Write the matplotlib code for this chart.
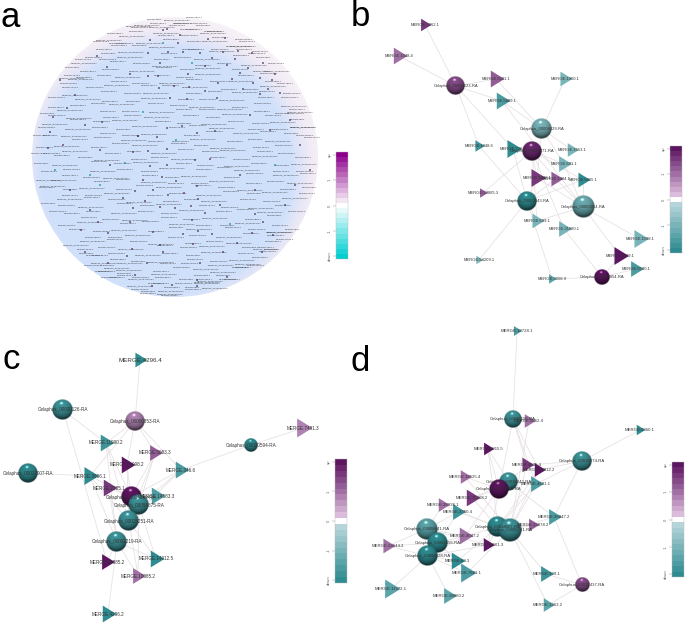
import numpy as np
import matplotlib
matplotlib.use('Agg')
import matplotlib.pyplot as plt
from matplotlib.collections import LineCollection
from matplotlib.colors import LinearSegmentedColormap, Normalize
from matplotlib.patches import Ellipse

W, H = 685, 624

# panel a: the labels cannot be read, so rows of tiny text stand in for them
a_row_y = [19, 24, 29, 35, 41, 47, 52, 58, 64, 70, 76, 81, 87, 93, 99, 105, 111, 116, 122, 128, 134,
           140, 146, 152, 158, 164, 170, 176, 182, 188, 194, 200, 206, 212, 218, 224, 230, 236, 242,
           248, 254, 260, 265, 270, 275, 280, 285, 290, 294]
a_ring_y = [17, 21, 26, 32, 38, 44, 50, 55, 61, 67, 73, 79, 84, 90, 96, 102, 108, 114, 119, 125, 131,
            137, 143, 149, 155, 161, 167, 173, 179, 185, 191, 197, 203, 209, 215, 221, 227, 233, 239,
            245, 251, 257, 262, 267, 272, 277, 282, 287, 292]
a_labels = ['Celaphus_00000623-RA', 'MERGE.1962.1', 'MERGE.21880.1', 'Celaphus_00004429-RA', 'MERGE.5889.1',
            'MERGE.699.1', 'Celaphus_00000943-RA', 'MERGE.1048.4', 'MERGE.14912.5']
a_gaps = [4, 10, 3, 14, 7, 5, 16, 9, 4, 20, 8, 12]
a_wobble = [0, -2, 1, 2, -1, 0, 2, -2, 1, -1]
a_node_x = [167, 182, 138, 157, 197, 215, 176, 148, 133, 167, 210, 195, 150, 167, 125, 143, 162, 176, 197, 153,
            135, 184, 168, 145, 198, 123, 160, 175, 133, 220, 163, 150, 148, 97, 107, 130, 148, 143, 102, 53,
            67, 50, 138, 63, 48, 167, 180, 163, 178, 208, 225, 168, 183, 200, 223, 238, 252, 192, 212, 235,
            263, 160, 205, 227, 248, 275, 240, 158, 188, 232, 260, 272, 174, 189, 159, 205, 218, 243, 268, 253,
            170, 187, 217, 260, 280, 90, 191, 205, 255, 98, 130, 192, 230, 263, 81, 108, 153, 198, 252, 273,
            183, 212, 160, 193, 237, 85, 132, 163, 223, 262, 127, 200, 108, 147, 135, 197, 227, 152, 197, 172,
            60, 75, 55, 70, 90, 250, 270, 290, 300, 275, 295, 310, 240, 255, 285, 100, 110, 85, 100]
a_node_y = [128, 126, 136, 137, 133, 131, 140, 151, 152, 149, 159, 160, 166, 165, 163, 180, 177, 181, 186, 190,
            191, 193, 195, 201, 199, 198, 207, 208, 208, 205, 30, 40, 53, 56, 67, 74, 76, 112, 122, 117,
            108, 132, 136, 145, 148, 29, 35, 43, 43, 39, 38, 52, 52, 53, 52, 51, 53, 63, 58, 59,
            63, 63, 66, 65, 68, 74, 73, 76, 74, 79, 78, 80, 86, 87, 88, 91, 83, 89, 89, 83,
            98, 99, 98, 94, 93, 210, 206, 213, 214, 222, 222, 220, 224, 222, 230, 233, 232, 231, 233, 235,
            234, 234, 245, 244, 243, 252, 249, 252, 252, 252, 256, 263, 263, 263, 275, 280, 277, 286, 286, 285,
            80, 95, 170, 190, 175, 115, 130, 120, 145, 165, 185, 170, 175, 190, 205, 185, 165, 125, 150]
a_teal_nodes = [6, 14, 47, 37, 57, 92, 122, 124, 129, 135]

# panel b
b_gene_names = ['Celaphus_00000623-RA', 'Celaphus_00004429-RA', 'Celaphus_00000471-RA', 'Celaphus_00000943-RA',
                'Celaphus_00000054-RA', 'Celaphus_00000854-RA']
b_gene_x = [456, 542, 532, 527, 583, 602]
b_gene_y = [86, 129, 151, 201, 207, 277]
b_gene_r = [9.5, 10.5, 10, 9.7, 11.3, 8]
b_gene_val = [1.4, -1.0, 1.8, -2.0, -1.1, 2.0]
b_mir_names = ['MERGE.1962.1', 'MERGE.1048.4', 'MERGE.5501.1', 'MERGE.1960.1', 'MERGE.5889.1', 'MERGE.1848.6',
               'MERGE.726.1', 'MERGE.1553.1', 'MERGE.691.1', 'MERGE.1098.1', 'MERGE.1384.1', 'MERGE.5865.1',
               'MERGE.19885.3', 'MERGE.699.1', 'MERGE.21880.1', 'MERGE.1598.1', 'MERGE.2189.1', 'MERGE.5590.1',
               'MERGE.54209.1', 'MERGE.9008.9']
b_mir_x = [425, 399, 496, 565, 502, 479, 513, 572, 564, 537, 556, 583, 483, 537, 564, 640, 620, 636, 479, 552]
b_mir_y = [25, 56, 79, 79, 101, 146, 149, 150, 164, 178, 179, 180, 193, 221, 229, 239, 256, 269, 260, 279]
b_mir_h = [6, 8, 8, 7, 8, 5.5, 8.5, 6.5, 7.5, 8.5, 7, 7, 4.5, 7, 7.5, 8.5, 8.5, 7.5, 4, 4.5]
b_mir_val = [1.6, 0.95, 1.1, -1.0, -1.6, -1.8, -2.0, -1.0, -0.9, 1.6, 1.2, -2.0, 1.2, -0.9, -1.0, -0.9, 2.0, -1.6,
             -1.0, -1.3]
b_edges = [(0, 0), (0, 1), (0, 2), (0, 4), (0, 5), (0, 6), (1, 3), (1, 4), (1, 2), (1, 7), (1, 8), (1, 9), (2, 6),
           (2, 12), (2, 8), (2, 9), (2, 10), (2, 11), (2, 13), (2, 14), (3, 5), (3, 6), (3, 9), (3, 10), (3, 11),
           (3, 13), (3, 18), (3, 19), (4, 4), (4, 8), (4, 9), (4, 10), (4, 11), (4, 13), (4, 15), (4, 16), (5, 16),
           (5, 17), (5, 19), (5, 14)]

# panel c
c_gene_names = ['Celaphus_00000126-RA', 'Celaphus_00000853-RA', 'Celaphus_00017007-RA', 'Celaphus_00020594-RA',
                'Celaphus_00014389-RA', 'Celaphus_00054875-RA', 'Celaphus_00015251-RA', 'Celaphus_00002219-RA']
c_gene_x = [63, 135, 28, 251, 131, 139, 129, 117]
c_gene_y = [410, 421, 473, 445, 497, 505, 521, 542]
c_gene_r = [10.5, 10, 10, 6.7, 10.3, 10.5, 10.5, 10.5]
c_gene_val = [-1.8, 0.7, -2.0, -2.0, 2.0, -1.8, -1.8, -1.8]
c_mir_names = ['MERGE.4296.4', 'MERGE.7491.3', 'MERGE.11990.2', 'MERGE.5083.3', 'MERGE.11098.2', 'MERGE.346.6',
               'MERGE.3996.1', 'MERGE.2285.1', 'MERGE.14583.3', 'MERGE.14912.5', 'MERGE.14885.2', 'MERGE.10085.2',
               'MERGE.4296.2']
c_mir_x = [140, 303, 106, 155, 127, 181, 90, 109, 157, 156, 107, 138, 108]
c_mir_y = [360, 428, 443, 453, 465, 470, 476, 488, 496, 559, 562, 576, 614]
c_mir_h = [7, 9, 8, 7.5, 8, 8, 8.5, 8, 8, 8, 7.5, 7.5, 8]
c_mir_val = [-2.0, 0.7, -1.8, 1.2, 2.0, -1.6, -2.0, 1.6, -1.6, -2.0, 2.0, 0.9, -2.0]
c_edges = [(1, 0), (1, 2), (1, 3), (1, 4), (1, 5), (1, 6), (0, 2), (0, 10), (2, 6), (3, 5), (3, 1), (4, 2), (4, 3),
           (4, 4), (4, 5), (4, 6), (4, 7), (4, 8), (5, 3), (5, 5), (5, 8), (5, 9), (5, 11), (6, 2), (6, 3), (6, 4),
           (6, 5), (6, 6), (6, 9), (6, 11), (7, 2), (7, 7), (7, 9), (7, 10), (7, 11), (7, 12), (7, 6)]

# panel d
d_gene_names = ['Celaphus_00006156-RA', 'Celaphus_00018274-RA', 'Celaphus_00018243-RA', 'Celaphus_00011065-RA',
                'Celaphus_00014007-RA', 'Celaphus_00000731-RA', 'Celaphus_00008641-RA', 'Celaphus_00002656-RA',
                'Celaphus_00008328-RA', 'Celaphus_00017437-RA']
d_gene_x = [513, 582, 509, 499, 498, 510, 427, 438, 428, 582]
d_gene_y = [419, 461, 482, 489, 527, 530, 529, 543, 556, 585]
d_gene_r = [8.7, 10, 9.5, 10, 10.5, 11.7, 10.7, 10.5, 10.5, 7.3]
d_gene_val = [-1.7, -1.7, -1.7, 2.0, -1.9, -1.8, -1.4, -2.0, -2.0, 1.4]
d_mir_names = ['MERGE.18728.1', 'MERGE.9860.1', 'MERGE.5862.4', 'MERGE.5915.5', 'MERGE.4635.4', 'MERGE.14912.2',
               'MERGE.18525.4', 'MERGE.4691.1', 'MERGE.15368.2', 'MERGE.28938.1', 'MERGE.3760.4', 'MERGE.26847.2',
               'MERGE.13878.2', 'MERGE.4047.2', 'MERGE.24644.2', 'MERGE.10661.3', 'MERGE.69.3', 'MERGE.7601.1',
               'MERGE.399.1', 'MERGE.11972.1', 'MERGE.98860.2', 'MERGE.1263.2']
d_mir_x = [517, 640, 529, 488, 527, 539, 465, 536, 472, 443, 458, 554, 533, 465, 388, 488, 457, 467, 546, 391, 449, 548]
d_mir_y = [331, 430, 421, 449, 465, 470, 477, 484, 498, 505, 512, 517, 525, 536, 546, 545, 561, 573, 574, 589, 596, 605]
d_mir_h = [4.7, 5, 6.5, 6, 7, 6.5, 6.5, 7.5, 8, 6.5, 7.5, 7.5, 6, 8, 7, 6.5, 8, 9, 7.5, 9, 7.5, 6.5]
d_mir_val = [-1.6, -2.0, 0.9, 2.0, 1.6, 2.0, 0.9, -1.6, 1.6, 0.9, -1.8, -1.6, 1.2, 0.9, 0.9, 2.0, -2.0, -1.6, -1.8,
             -1.3, -1.3, -1.3]
d_edges = [(0, 0), (0, 2), (0, 4), (0, 5), (0, 7), (0, 15), (1, 1), (1, 4), (1, 5), (1, 7), (1, 11), (2, 3), (2, 4),
           (2, 7), (2, 8), (2, 11), (3, 6), (3, 8), (3, 3), (3, 13), (4, 3), (4, 5), (4, 7), (4, 8), (4, 9), (4, 10),
           (4, 15), (4, 12), (4, 13), (5, 2), (5, 4), (5, 5), (5, 7), (5, 6), (5, 12), (5, 18), (5, 11), (5, 21),
           (9, 11), (9, 18), (9, 21), (6, 9), (6, 10), (6, 13), (6, 14), (6, 15), (6, 17), (7, 14), (7, 13), (7, 16),
           (7, 10), (8, 14), (8, 19), (8, 20), (8, 16), (8, 17), (8, 15), (8, 13), (4, 16), (5, 17)]

bar_ticks = [-2, -1, 0, 1, 2]
bar_labels = ['down', '-1', '0', '1', 'up']

net_cmap = LinearSegmentedColormap.from_list(
    'net', [(0, '#2e8b90'), (0.45, '#b5d5da'), (0.5, '#ffffff'), (0.55, '#dcbcdc'), (0.75, '#a06fa4'), (1, '#5c1560')],
    N=21)
a_cmap = LinearSegmentedColormap.from_list(
    'hair', [(0, '#00ced1'), (0.5, '#ffffff'), (1, '#8b008b')], N=21)
norm = Normalize(-2, 2)


def draw_sphere(ax, x, y, r, color):
    n = 48
    yy, xx = np.mgrid[-1:1:n * 1j, -1:1:n * 1j]
    d2 = xx ** 2 + yy ** 2
    zz = np.sqrt(np.clip(1 - d2, 0, 1))
    diffuse = np.clip(-0.1 * xx - 0.55 * yy + 0.83 * zz, 0, 1)
    spot = np.clip(-0.1 * xx - 0.62 * yy + 0.78 * zz, 0, 1) ** 160
    rgb = np.array(color[:3]) * (0.38 + 0.62 * diffuse ** 0.8)[..., None] + 0.7 * spot[..., None]
    alpha = np.clip((1 - np.sqrt(d2)) * n / 2, 0, 1)
    img = np.dstack([np.clip(rgb, 0, 1), alpha])
    ax.imshow(img, extent=(x - r, x + r, y + r, y - r), zorder=4, aspect='auto', interpolation='bilinear')


def draw_network(ax, g_names, g_x, g_y, g_r, g_val, m_names, m_x, m_y, m_h, m_val, edges, fs):
    segs = [[(g_x[i], g_y[i]), (m_x[j], m_y[j])] for i, j in edges]
    ax.add_collection(LineCollection(segs, colors='#e6dfe3', linewidths=0.55, zorder=1))
    tri = [(-0.62, -1), (-0.62, 1), (1.0, 0)]
    sizes = [(2 * h * 1.05 * 72 / 100) ** 2 for h in m_h]
    ax.scatter(m_x, m_y, s=sizes, marker=tri, c=m_val, cmap=net_cmap, norm=norm, linewidths=0, zorder=3)
    for k in range(len(g_names)):
        draw_sphere(ax, g_x[k], g_y[k], g_r[k], net_cmap(norm(g_val[k])))
        ax.text(g_x[k], g_y[k], g_names[k], fontsize=fs, color='#333333', ha='center', va='center', zorder=5)
    for k in range(len(m_names)):
        ax.text(m_x[k], m_y[k], m_names[k], fontsize=fs, color='#333333', ha='center', va='center', zorder=5)


def draw_bar(fig, cmap, x0, x1, y0, y1):
    cax = fig.add_axes([x0 / W, 1 - y1 / H, (x1 - x0) / W, (y1 - y0) / H])
    edges = np.linspace(-2.1, 2.1, 22)
    centers = (edges[:-1] + edges[1:]) / 2
    cax.pcolormesh([0, 1], edges, centers[:, None], cmap=cmap, norm=Normalize(-2.1, 2.1))
    cax.set_xticks([])
    cax.set_yticks(bar_ticks)
    cax.set_yticklabels(bar_labels, rotation=90, va='center', fontsize=3, color='#666666')
    cax.tick_params(axis='y', length=2, width=0.3, pad=1, color='#888888')
    for s in cax.spines.values():
        s.set_linewidth(0.3)
        s.set_color('#bbbbbb')


def disc_radius(x, y):
    return np.hypot((x - 175) / 143, (y - 157) / 140)


def draw_rows(ax, rows, rmin, shift):
    # walk along each row and keep the labels that lie inside the disc
    for i, y in enumerate(rows):
        x = 20 + (i * 7 + shift) % 23
        col = 0
        while x < 330:
            label = a_labels[(i * 2 + col + shift) % len(a_labels)]
            w = len(label) * 1.15
            yy = y + a_wobble[(i + col * 3) % len(a_wobble)]
            r_mid = disc_radius(x + w / 2, yy)
            if disc_radius(x, yy) < 1.01 and disc_radius(x + w, yy) < 1.01 and r_mid >= rmin:
                ax.text(x, yy, label, fontsize=1.75, color='#303030', ha='left', va='center', zorder=2)
            x += w + a_gaps[(i * 5 + col + shift) % len(a_gaps)]
            col += 1


plt.rcParams['font.family'] = ['Liberation Sans', 'DejaVu Sans']
fig = plt.figure(figsize=(W / 100, H / 100), dpi=100)
ax = fig.add_axes([0, 0, 1, 1])
ax.set_xlim(0, W)
ax.set_ylim(H, 0)

# hairball
disc = Ellipse((175, 157), 286, 280, facecolor='none', edgecolor='none')
ax.add_patch(disc)
yy, xx = np.mgrid[0:1:300j, 0:1:300j]
rr = np.hypot(xx - 0.47, yy - 0.55) * 2
disc_cmap = LinearSegmentedColormap.from_list(
    'disc', [(0, '#cfe0fc'), (0.80, '#d0e0fb'), (0.92, '#efeaf5'), (1, '#f6f1f7')])
bg = ax.imshow(rr, extent=(32, 318, 297, 17), cmap=disc_cmap, vmin=0, vmax=1.1, aspect='auto', zorder=0)
bg.set_clip_path(disc)
draw_rows(ax, a_row_y, 0, 0)
draw_rows(ax, a_ring_y, 0.88, 4)
a_colors = ['#0f8f98' if k in a_teal_nodes else '#4a2a55' for k in range(len(a_node_x))]
ax.scatter(a_node_x, a_node_y, s=1.6, c=a_colors, linewidths=0, zorder=3)

draw_network(ax, b_gene_names, b_gene_x, b_gene_y, b_gene_r, b_gene_val,
             b_mir_names, b_mir_x, b_mir_y, b_mir_h, b_mir_val, b_edges, 3.0)
draw_network(ax, c_gene_names, c_gene_x, c_gene_y, c_gene_r, c_gene_val,
             c_mir_names, c_mir_x, c_mir_y, c_mir_h, c_mir_val, c_edges, 3.3)
draw_network(ax, d_gene_names, d_gene_x, d_gene_y, d_gene_r, d_gene_val,
             d_mir_names, d_mir_x, d_mir_y, d_mir_h, d_mir_val, d_edges, 3.1)
# this one label is printed larger in the source
for t in ax.texts:
    if t.get_text() == 'MERGE.4296.4':
        t.set_fontsize(4.5)

ax.text(1, 27, 'a', fontsize=25, color='black', va='baseline')
ax.text(351, 26, 'b', fontsize=25, color='black', va='baseline')
ax.text(2, 369, 'c', fontsize=25, color='black', va='baseline')
ax.text(351, 371, 'd', fontsize=25, color='black', va='baseline')

ax.set_xlim(0, W)
ax.set_ylim(H, 0)
ax.axis('off')

draw_bar(fig, a_cmap, 336, 348, 152, 259)
draw_bar(fig, net_cmap, 670, 682, 146, 253)
draw_bar(fig, net_cmap, 335, 347, 459, 583)
draw_bar(fig, net_cmap, 672, 684, 462, 577)

fig.savefig('out.png', dpi=100)
